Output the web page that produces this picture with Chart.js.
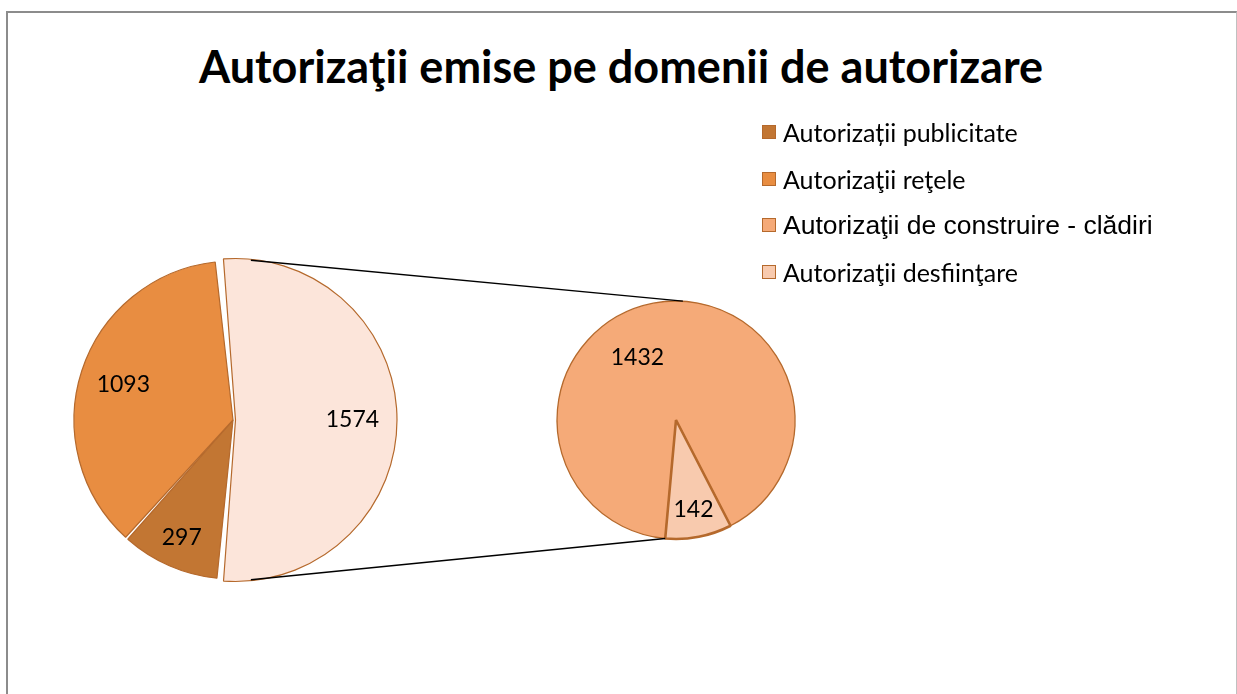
<!DOCTYPE html>
<html>
<head>
<meta charset="utf-8">
<script src="https://cdn.jsdelivr.net/npm/chart.js@4.4.1/dist/chart.umd.min.js"></script>
<style>
  html, body { margin: 0; padding: 0; background: #fff; }
  #wrap { position: relative; width: 1237px; height: 694px; overflow: hidden; background: #fff; }
  #frame { position: absolute; left: 6px; top: 11px; width: 1228px; height: 700px;
           border-left: 2px solid #8c8c8c; border-top: 2px solid #8c8c8c; border-right: 1px solid #c0c0c0; }
  #title { position: absolute; left: 0; top: 39px; width: 1242px; text-align: center;
           font-family: Lato, "Open Sans", sans-serif; font-weight: 700; font-size: 45px; color: #000; line-height: 54px; }
  canvas { position: absolute; left: 0; top: 0; }
  #legend { position: absolute; left: 762px; top: 116px; font-size: 25px; color: #000; }
  #legend .item { display: flex; align-items: center; height: 32px; margin-bottom: 14.5px; }
  #legend .sw { width: 12px; height: 12px; border: 1px solid #b5692c; margin-right: 7px; flex: none; }
</style>
</head>
<body>
<div id="wrap">
  <div id="frame"></div>
  <div id="title">Autorizaţii emise pe domenii de autorizare</div>
  <canvas id="pie1" width="1237" height="694"></canvas>
  <canvas id="pie2" width="1237" height="694"></canvas>
  <div id="legend"></div>
</div>
<script>
// primary pie: clockwise from the top -> rest (split out), publicitate, retele
const mainLabels = ['Alte autorizaţii', 'Autorizații publicitate', 'Autorizaţii reţele'];
const mainValues = [1574, 297, 1093];
const mainColors = ['#FCE5DA', '#C27633', '#E88D41'];

// secondary pie: breakdown of the rest
const subLabels = ['Autorizaţii de construire - clădiri', 'Autorizaţii desfiinţare'];
const subValues = [1432, 142];
const subColors = ['#F5AA78', '#F8CAAE'];

const legendItems = [
  { text: 'Autorizații publicitate', color: '#C27633', font: "Lato", size: 25 },
  { text: 'Autorizaţii reţele', color: '#E88D41', font: "Lato", size: 25 },
  { text: 'Autorizaţii de construire - clădiri', color: '#F5AA78', font: "'Liberation Sans', Arial", size: 26.5 },
  { text: 'Autorizaţii desfiinţare', color: '#F8CAAE', font: "Lato", size: 25 },
];

const edge = '#B5692C';

document.getElementById('legend').innerHTML = legendItems.map(it => `
  <div class="item"><div class="sw" style="background:${it.color}"></div>
  <span style="font-family:${it.font};font-size:${it.size}px">${it.text}</span></div>`).join('');

// value labels drawn inside the slices
const sliceLabels = {
  id: 'sliceLabels',
  afterDatasetsDraw(chart, args, opts) {
    const { ctx } = chart;
    const meta = chart.getDatasetMeta(0);
    const values = chart.data.datasets[0].data;
    ctx.save();
    ctx.font = '23px Lato, sans-serif';
    ctx.fillStyle = '#000';
    ctx.textAlign = 'center';
    ctx.textBaseline = 'middle';
    meta.data.forEach((arc, i) => {
      const p = arc.getProps(['x', 'y', 'startAngle', 'endAngle', 'outerRadius'], true);
      const a = opts.angles && opts.angles[i] != null
        ? (opts.angles[i] - 90) * Math.PI / 180
        : (p.startAngle + p.endAngle) / 2;
      const shift = (arc.options.offset || 0) / 4;
      const mid = (p.startAngle + p.endAngle) / 2;
      const cx = p.x + Math.cos(mid) * shift, cy = p.y + Math.sin(mid) * shift;
      const r = p.outerRadius * opts.radius[i];
      ctx.fillText(String(values[i]), cx + Math.cos(a) * r, cy + Math.sin(a) * r);
    });
    ctx.restore();
  }
};

const chart1 = new Chart(document.getElementById('pie1'), {
  type: 'pie',
  data: {
    labels: mainLabels,
    datasets: [{
      data: mainValues,
      backgroundColor: mainColors,
      borderColor: edge,
      borderWidth: 1.2,
      offset: [10, 0, 0],
      spacing: 2,
      radius: 158,
    }],
  },
  options: {
    responsive: false,
    animation: false,
    rotation: -5.6,
    layout: { padding: { left: 0, right: 771, top: 146, bottom: 0 } },
    plugins: {
      legend: { display: false },
      tooltip: { enabled: false },
      sliceLabels: { radius: [0.74, 0.81, 0.73] },
    },
  },
  plugins: [sliceLabels],
});

// connector lines between the split-out slice and the secondary pie
const connectors = {
  id: 'connectors',
  afterDraw(chart) {
    const a = chart1.getDatasetMeta(0).data[0];
    const b = chart.getDatasetMeta(0).data[0];
    const shift = (a.options.offset || 0) / 4;
    const amid = (a.startAngle + a.endAngle) / 2;
    const ax = a.x + Math.cos(amid) * shift, ay = a.y + Math.sin(amid) * shift;
    const ar = a.outerRadius + shift;
    const pt = (x, y, r, deg) => {
      const t = (deg - 90) * Math.PI / 180;
      return [x + Math.cos(t) * r, y + Math.sin(t) * r];
    };
    const { ctx } = chart;
    ctx.save();
    ctx.strokeStyle = '#000';
    ctx.lineWidth = 1.3;
    [[5.5, 3.3], [174.5, 185.2]].forEach(([d1, d2]) => {
      const p1 = pt(ax, ay, ar, d1);
      const p2 = pt(b.x, b.y, b.outerRadius, d2);
      ctx.beginPath();
      ctx.moveTo(p1[0], p1[1]);
      ctx.lineTo(p2[0], p2[1]);
      ctx.stroke();
    });
    ctx.restore();
  }
};

new Chart(document.getElementById('pie2'), {
  type: 'pie',
  data: {
    labels: subLabels,
    datasets: [{
      data: subValues,
      backgroundColor: subColors,
      borderColor: edge,
      borderWidth: [1.3, 2.6],
      radius: 119,
    }],
  },
  options: {
    responsive: false,
    animation: false,
    rotation: 185.2,
    layout: { padding: { left: 536, right: 421, top: 146, bottom: 0 } },
    plugins: {
      legend: { display: false },
      tooltip: { enabled: false },
      sliceLabels: { radius: [0.62, 0.77], angles: [328.5, null] },
    },
  },
  plugins: [sliceLabels, connectors],
});
</script>
</body>
</html>
